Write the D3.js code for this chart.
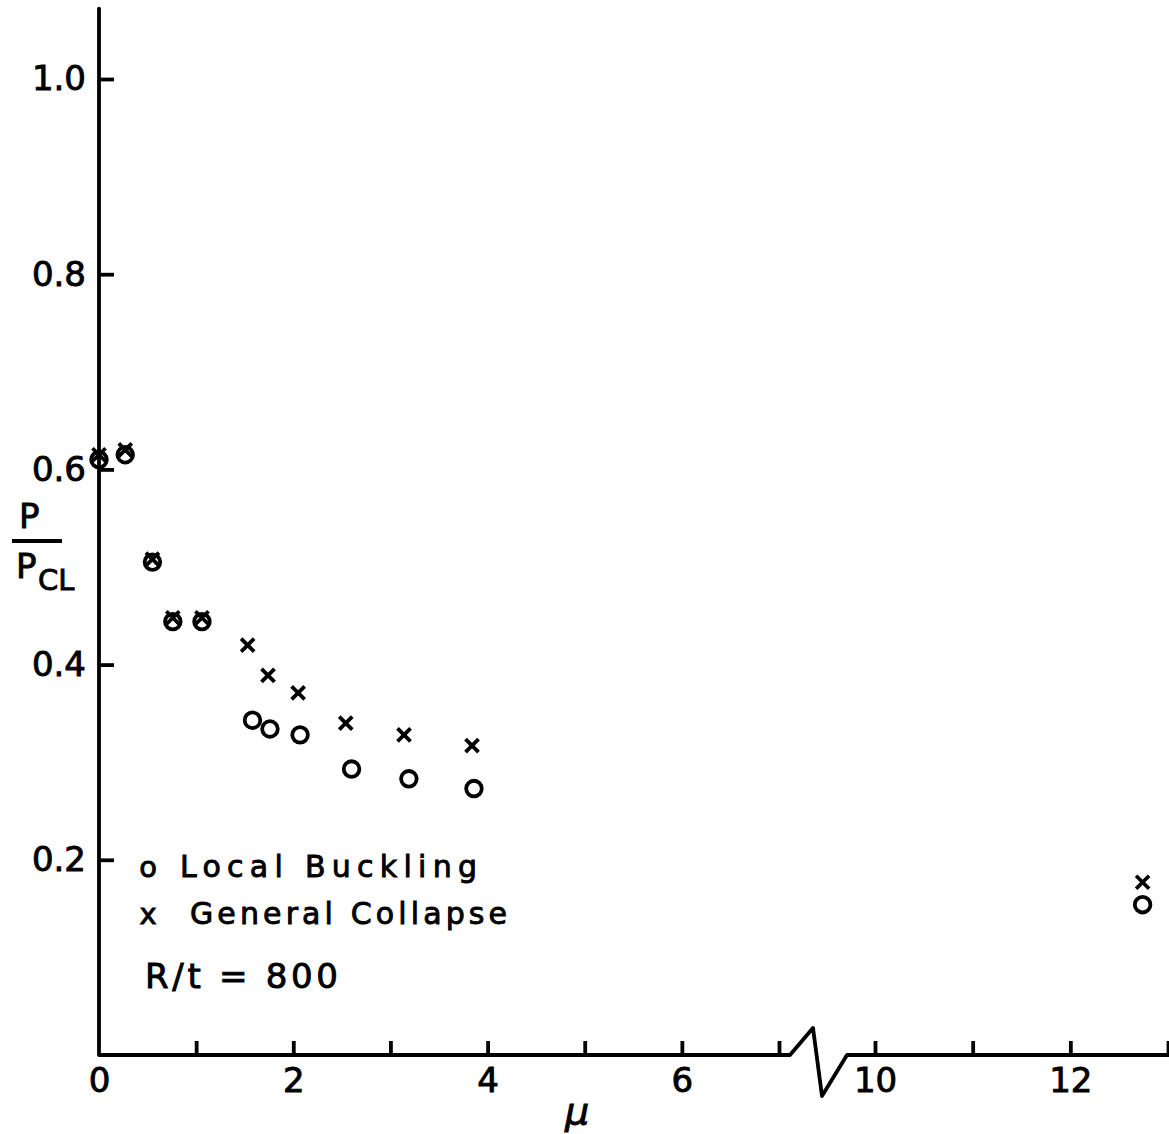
<!DOCTYPE html>
<html><head><meta charset="utf-8">
<script src="https://cdn.jsdelivr.net/npm/d3@7"></script>
<style>
body{margin:0;background:#fff}
text{font-family:"DejaVu Sans",sans-serif;fill:#000;stroke:#000;stroke-width:0.9px;font-weight:normal}
</style>
</head><body>
<svg id="c" width="1169" height="1134"></svg>
<script>
// ---- data ----
const xTicks = [0,1,2,3,4,5,6,7,10,11,12,13];
const xTickLabels = {0:"0",2:"2",4:"4",6:"6",10:"10",12:"12"};
const yTicks = [0.2,0.4,0.6,0.8,1.0];
const localMu = [0.00,0.27,0.55,0.76,1.06,1.58,1.76,2.07,2.60,3.19,3.86,12.74];
const localP  = [0.610,0.615,0.505,0.444,0.444,0.343,0.334,0.328,0.293,0.283,0.273,0.154];
const generalMu = [0.00,0.27,0.55,0.76,1.06,1.53,1.74,2.05,2.54,3.14,3.84,12.74];
const generalP  = [0.615,0.620,0.508,0.448,0.448,0.420,0.389,0.371,0.340,0.328,0.317,0.177];
const legendSymbols = ["o","x"];
const legendLabels = ["Local Buckling","General Collapse"];
const noteText = "R/t = 800";
const xLabel = "\u03BC";
const yLabelTop = "P", yLabelBottom = "P", yLabelSub = "CL";

// ---- scales ----
const svg = d3.select("#c");
const x = d3.scaleLinear().domain([0,7,10,13]).range([99,779,875,1168]);
const y = d3.scaleLinear().domain([0,1]).range([1055,79]);
const y0 = y(0), x0 = x(0);
const SW = 3.8;

// axis line with break
const bx = x(7);
const axisPath = d3.path();
axisPath.moveTo(x0, y(1.072));
axisPath.lineTo(x0, y0);
axisPath.lineTo(bx + 11, y0);
axisPath.lineTo(bx + 34, y0 - 27);
axisPath.lineTo(bx + 43, y0 + 41);
axisPath.lineTo(bx + 68, y0);
axisPath.lineTo(1169, y0);
svg.append("path").attr("d", axisPath.toString())
  .attr("fill","none").attr("stroke","#000").attr("stroke-width",SW)
  .attr("stroke-linejoin","round").attr("stroke-linecap","round");

// x axis
const gx = svg.append("g").attr("transform",`translate(0,${y0})`)
  .call(d3.axisBottom(x).tickValues(xTicks).tickSizeInner(-14).tickSizeOuter(0)
        .tickPadding(13).tickFormat(d => xTickLabels[d] || ""));
gx.select(".domain").remove();
gx.selectAll(".tick line").attr("stroke","#000").attr("stroke-width",SW)
  .attr("display", d => d === 0 ? "none" : null);
gx.selectAll(".tick text").attr("font-size",34).attr("font-family",null).attr("fill",null);

// y axis
const gy = svg.append("g").attr("transform",`translate(${x0},0)`)
  .call(d3.axisLeft(y).tickValues(yTicks).tickSizeInner(-15).tickSizeOuter(0)
        .tickPadding(13).tickFormat(d3.format(".1f")));
gy.select(".domain").remove();
gy.selectAll(".tick line").attr("stroke","#000").attr("stroke-width",SW);
gy.selectAll(".tick text").attr("font-size",34).attr("font-family",null).attr("fill",null);

// points
const local = localMu.map((m,i)=>({m, p: localP[i]}));
const general = generalMu.map((m,i)=>({m, p: generalP[i]}));
svg.append("g").selectAll("circle").data(local).join("circle")
  .attr("cx", d=>x(d.m)).attr("cy", d=>y(d.p)).attr("r",7.8)
  .attr("fill","none").attr("stroke","#000").attr("stroke-width",SW);
const cs = 6.5;
svg.append("g").selectAll("path").data(general).join("path")
  .attr("d", d=>{const cx=x(d.m), cy=y(d.p);
     return `M${cx-cs},${cy-cs}L${cx+cs},${cy+cs}M${cx+cs},${cy-cs}L${cx-cs},${cy+cs}`;})
  .attr("stroke","#000").attr("stroke-width",SW).attr("fill","none");

// legend
const lg = svg.append("g");
const legY = [877, 924];
const legX = [180, 190];
const legLen = [297, 317];
legendSymbols.forEach((s,i)=>{
  lg.append("text").attr("x",148).attr("y",legY[i]).attr("text-anchor","middle")
    .attr("font-size",29).text(s);
  lg.append("text").attr("x",legX[i]).attr("y",legY[i]).attr("font-size",30)
    .attr("textLength",legLen[i]).attr("lengthAdjust","spacing").text(legendLabels[i]);
});
lg.append("text").attr("x",145).attr("y",988).attr("font-size",34)
  .attr("textLength",193).attr("lengthAdjust","spacing").text(noteText);

// axis titles
svg.append("text").attr("x",577).attr("y",1124).attr("text-anchor","middle")
  .attr("font-size",38).attr("font-style","italic").text(xLabel);
svg.append("text").attr("x",19).attr("y",528).attr("font-size",34).text(yLabelTop);
svg.append("line").attr("x1",12).attr("x2",62).attr("y1",541).attr("y2",541)
  .attr("stroke","#000").attr("stroke-width",4);
svg.append("text").attr("x",16).attr("y",578).attr("font-size",34).text(yLabelBottom);
svg.append("text").attr("x",38).attr("y",590).attr("font-size",29).text(yLabelSub);
</script>
</body></html>
